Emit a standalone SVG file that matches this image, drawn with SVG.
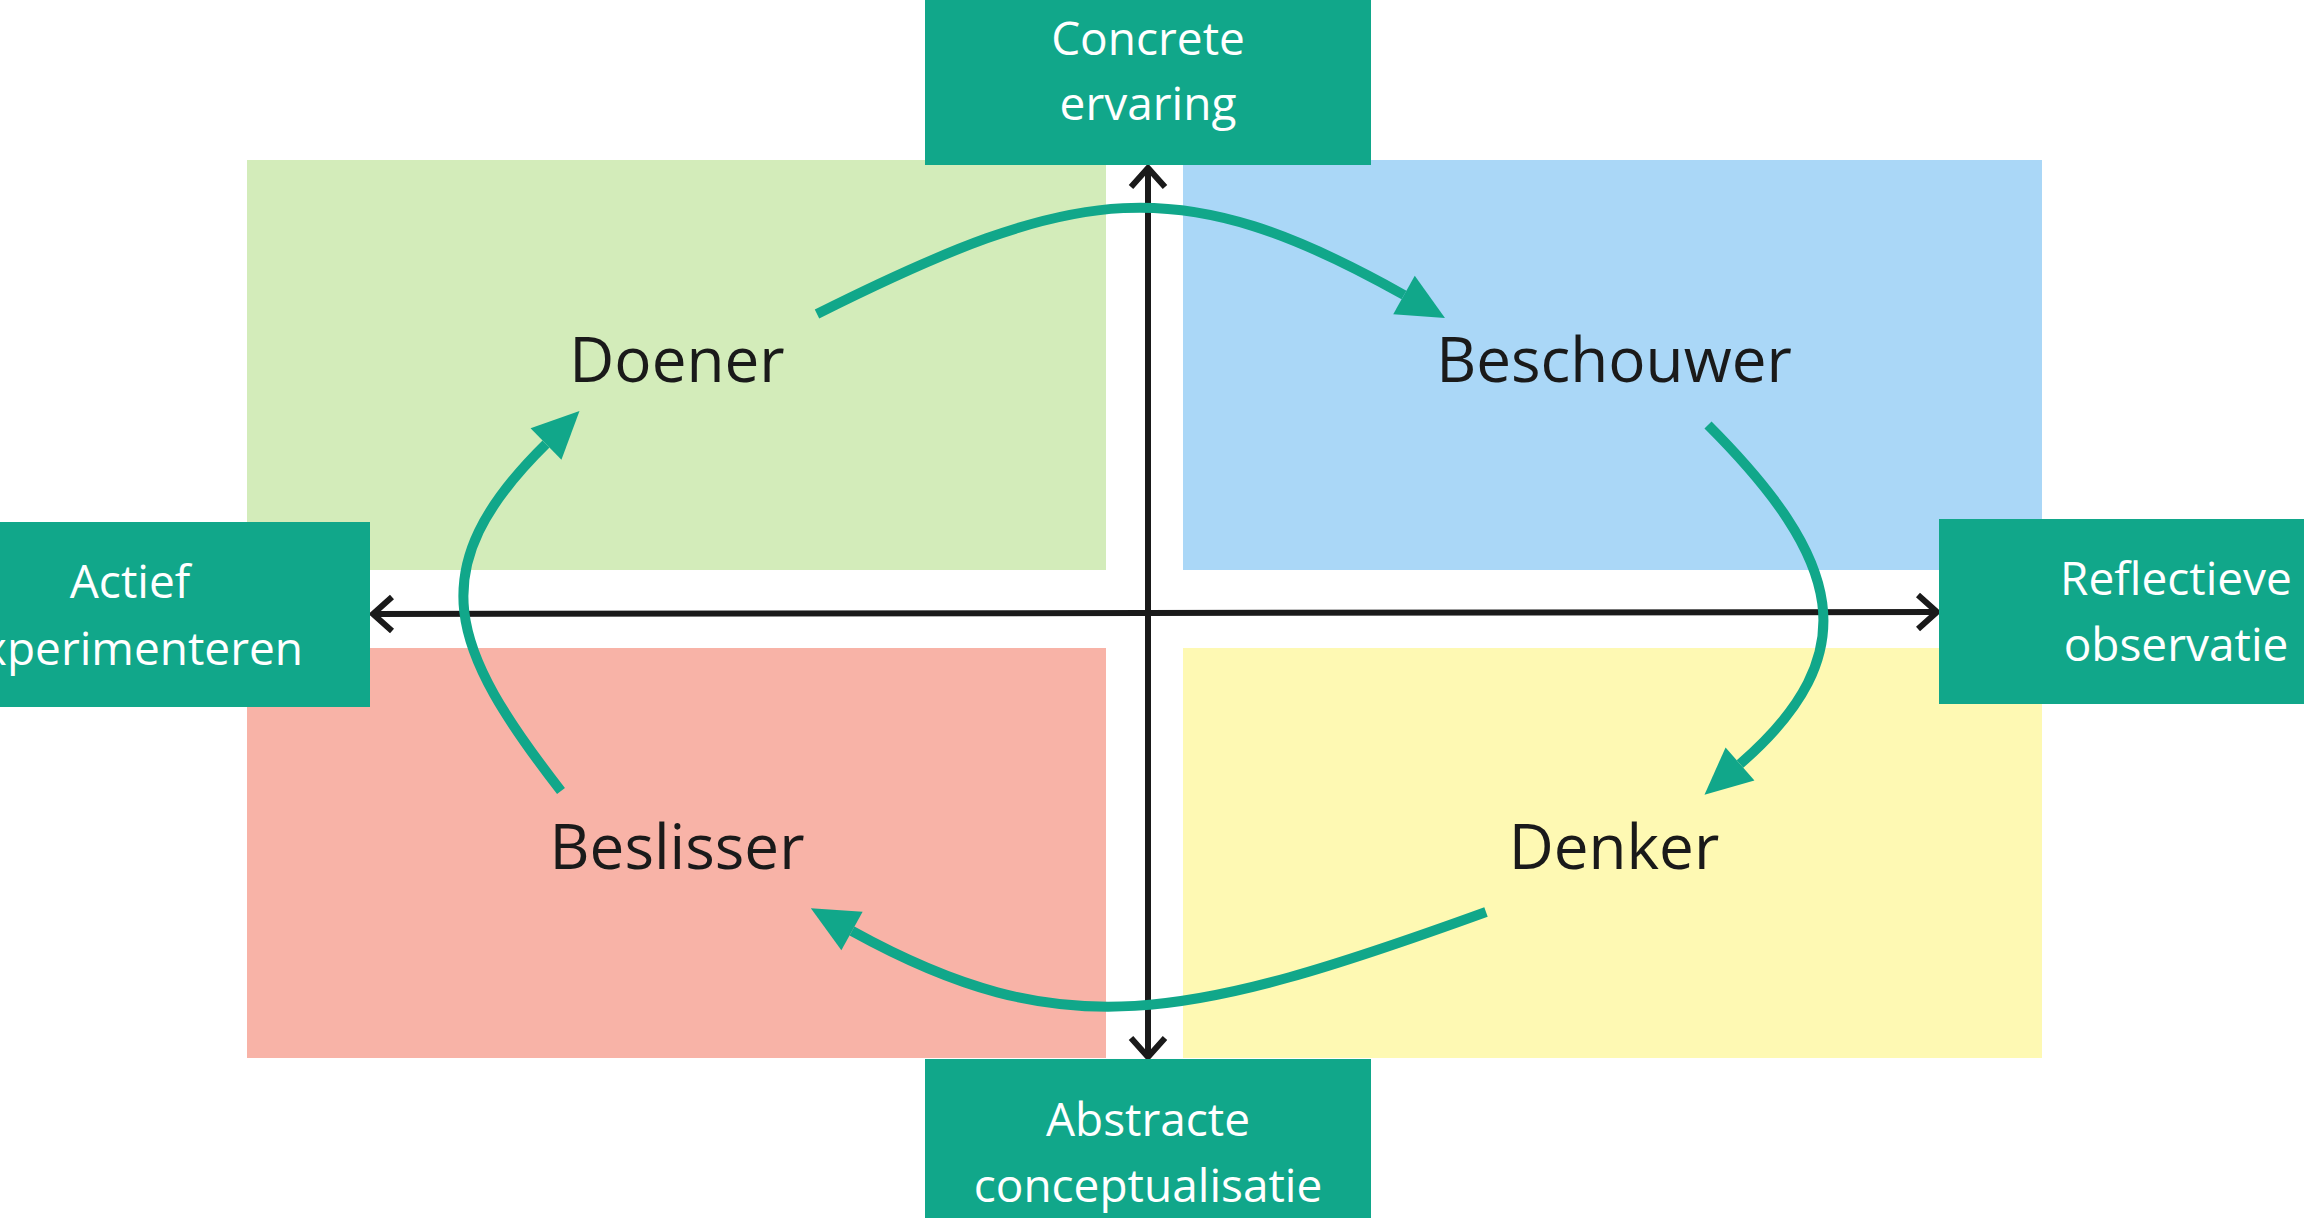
<svg xmlns="http://www.w3.org/2000/svg" width="2304" height="1218" viewBox="0 0 2304 1218">
<style>
.box{fill:#11a78a}
.btxt{font-family:"Open Sans","Noto Sans",sans-serif;font-size:46px;fill:#ffffff;text-anchor:middle}
.qtxt{font-family:"Open Sans","Noto Sans",sans-serif;font-size:62px;fill:#1a1a1a;text-anchor:middle}
.axis{stroke:#1a1a1a;stroke-width:6;fill:none}
.cycle{stroke:#11a78a;stroke-width:10;fill:none;stroke-linecap:butt}
</style>
<defs>
<marker id="chev" markerUnits="userSpaceOnUse" viewBox="-26 -26 32 52" markerWidth="32" markerHeight="52" refX="0" refY="0" orient="auto-start-reverse">
<path d="M-19,-17 L0,0 L-19,17" fill="none" stroke="#1a1a1a" stroke-width="6"/>
</marker>
<marker id="tri" markerUnits="userSpaceOnUse" viewBox="-2 -24 52 48" markerWidth="52" markerHeight="48" refX="0" refY="0" orient="auto">
<path d="M0,-22 L47,0 L0,22 Z" fill="#11a78a"/>
</marker>
</defs>
<rect width="2304" height="1218" fill="#ffffff"/>
<g id="quadrant-doener">
<rect x="247" y="160" width="859" height="410" fill="#d3ecba"/>
<text class="qtxt" x="677" y="382">Doener</text>
</g>
<g id="quadrant-beschouwer">
<rect x="1183" y="160" width="859" height="410" fill="#aad7f7"/>
<text class="qtxt" x="1614" y="382">Beschouwer</text>
</g>
<g id="quadrant-beslisser">
<rect x="247" y="648" width="859" height="410" fill="#f8b3a7"/>
<text class="qtxt" x="677" y="869">Beslisser</text>
</g>
<g id="quadrant-denker">
<rect x="1183" y="648" width="859" height="410" fill="#fef9b3"/>
<text class="qtxt" x="1614" y="869">Denker</text>
</g>
<g id="connectors">
<line class="axis" x1="373" y1="614" x2="1937" y2="612" marker-start="url(#chev)" marker-end="url(#chev)"/>
<line class="axis" x1="1148" y1="168" x2="1148" y2="1057" marker-start="url(#chev)" marker-end="url(#chev)"/>
<path class="cycle" d="M817,314 C1077,184 1178,168 1404,295" marker-end="url(#tri)"/>
<path class="cycle" d="M1708,425 C1842,559 1868,653 1740,764" marker-end="url(#tri)"/>
<path class="cycle" d="M1486,912 C1185,1021 1062,1047 852,931" marker-end="url(#tri)"/>
<path class="cycle" d="M561,791 C451,649 418,570 546,444" marker-end="url(#tri)"/>
</g>
<g id="box-concrete-ervaring">
<rect class="box" x="925" y="0" width="446" height="165"/>
<text class="btxt" x="1148" y="55">Concrete</text>
<text class="btxt" x="1148" y="120">ervaring</text>
</g>
<g id="box-actief-experimenteren">
<rect class="box" x="0" y="522" width="370" height="185"/>
<text class="btxt" x="130" y="598">Actief</text>
<text class="btxt" x="130" y="665">experimenteren</text>
</g>
<g id="box-reflectieve-observatie">
<rect class="box" x="1939" y="519" width="365" height="185"/>
<text class="btxt" x="2176" y="595">Reflectieve</text>
<text class="btxt" x="2176" y="661">observatie</text>
</g>
<g id="box-abstracte-conceptualisatie">
<rect class="box" x="925" y="1059" width="446" height="159"/>
<text class="btxt" x="1148" y="1136">Abstracte</text>
<text class="btxt" x="1148" y="1202">conceptualisatie</text>
</g>
</svg>
